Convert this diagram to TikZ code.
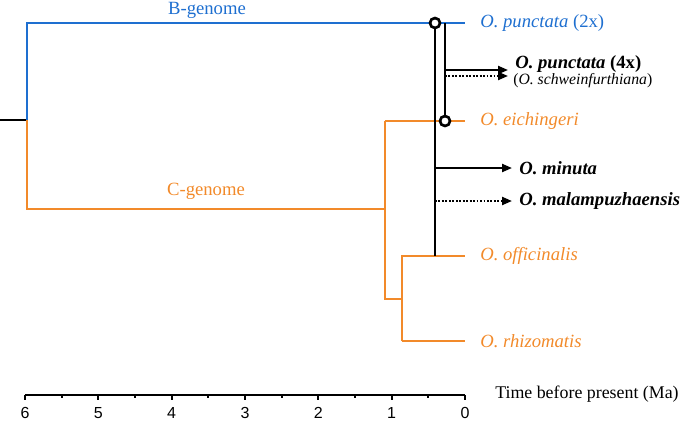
\documentclass[tikz,border=0pt]{standalone}
\usepackage{fontspec}
\setmainfont{Liberation Serif}
\newfontfamily\axisfont{Liberation Sans}
\usetikzlibrary{arrows.meta}
\definecolor{bgenome}{HTML}{1E6FD0}
\definecolor{cgenome}{HTML}{F28A2A}

\begin{document}
\begin{tikzpicture}[x=0.75pt,y=-0.75pt,
    branch/.style={line width=1.6pt},
    taxon/.style={anchor=west,inner sep=0pt,font=\fontsize{14}{16}\selectfont\itshape},
    newtaxon/.style={anchor=west,inner sep=0pt,font=\fontsize{14}{16}\selectfont\bfseries\itshape},
    origin/.style={draw,circle,fill=white,line width=2pt,minimum size=7.5pt,inner sep=0pt},
    solidarrow/.style={line width=1.6pt,-{Triangle[length=7.5pt,width=6pt]}},
    dotarrow/.style={line width=1.6pt,dash pattern=on 1.4pt off 1.2pt,-{Triangle[length=7.5pt,width=6pt]}},
    ticklabel/.style={inner sep=0pt,font=\axisfont\fontsize{12}{14}\selectfont}]
    \useasboundingbox (0,0) rectangle (685,429);
    % tree junctions
    \coordinate (root) at (0,120);
    \coordinate (bc) at (27,120);
    \coordinate (b) at (27,23);
    \coordinate (c) at (27,209);
    \coordinate (cc) at (385,209);
    \coordinate (ceic) at (385,121);
    \coordinate (coff) at (385,299);
    \coordinate (oo) at (402,299);
    \coordinate (ooff) at (402,256);
    \coordinate (orhi) at (402,341);
    \coordinate (tpun) at (465,23);
    \coordinate (teic) at (465,121);
    \coordinate (toff) at (465,256);
    \coordinate (trhi) at (465,341);
    \coordinate (hoff) at (435,256);
    \coordinate (hpun) at (445,23);
    % taxa
    \node[taxon,text=bgenome] (pun2) at (480,23) {O. punctata \upshape(2x)};
    \node[newtaxon] (pun4) at (515,64) {O. punctata \upshape(4x)};
    \node[anchor=west,inner sep=0pt,font=\fontsize{11.8}{13}\selectfont] (schw) at (513,81) {(\textit{O. schweinfurthiana})};
    \node[taxon,text=cgenome] (eic) at (480,121) {O. eichingeri};
    \node[newtaxon] (min) at (519,168) {O. minuta};
    \node[newtaxon] (mal) at (519,201) {O. malampuzhaensis};
    \node[taxon,text=cgenome] (off) at (480,256) {O. officinalis};
    \node[taxon,text=cgenome] (rhi) at (480,341) {O. rhizomatis};
    \node[text=bgenome,inner sep=0pt,font=\fontsize{14}{16}\selectfont] (blbl) at (207,10) {B-genome};
    \node[text=cgenome,inner sep=0pt,font=\fontsize{14}{16}\selectfont] (clbl) at (206,191) {C-genome};
    % branches
    \draw[branch] (root) -- (bc);
    \draw[branch,bgenome] (bc) -- (b) -- (tpun);
    \draw[branch,cgenome] (bc) -- (c) -- (cc);
    \draw[branch,cgenome] (ceic) -- (coff) -- (oo);
    \draw[branch,cgenome] (ceic) -- (teic);
    \draw[branch,cgenome] (orhi) -- (ooff) -- (toff);
    \draw[branch,cgenome] (orhi) -- (trhi);
    % allopolyploid lineages
    \coordinate (h1) at (435,23);
    \coordinate (h2) at (445,121);
    \draw[branch] (h1) -- (hoff);
    \draw[branch] (hpun) -- (h2);
    \node[origin] (o1) at (h1) {};
    \node[origin] (o2) at (h2) {};
    \coordinate (s4) at (445,70);
    \coordinate (e4) at (508,70);
    \coordinate (d4) at (445,76);
    \coordinate (f4) at (508,76);
    \coordinate (smin) at (435,168);
    \coordinate (emin) at (512,168);
    \coordinate (smal) at (435,201);
    \coordinate (emal) at (512,201);
    \draw[solidarrow] (s4) -- (e4);
    \draw[dotarrow] (d4) -- (f4);
    \draw[solidarrow] (smin) -- (emin);
    \draw[dotarrow] (smal) -- (emal);
    % time axis
    \draw[line width=1.6pt] (25,395) coordinate (ax6) -- (465,395) coordinate (ax0);
    \foreach \t in {0,...,6} {
      \draw[line width=1.3pt] (465-73.33*\t,395) -- ++(0,5);
      \node[ticklabel] (tk\t) at (465-73.33*\t,413) {\t};
    }
    \foreach \t in {0.5,1.5,...,5.5}
      \draw[line width=1.3pt] (465-73.33*\t,395) -- ++(0,3);
    \node[anchor=west,inner sep=0pt,font=\fontsize{13.4}{16}\selectfont] (tlbl) at (495,394) {Time before present (Ma)};
\end{tikzpicture}
\end{document}
